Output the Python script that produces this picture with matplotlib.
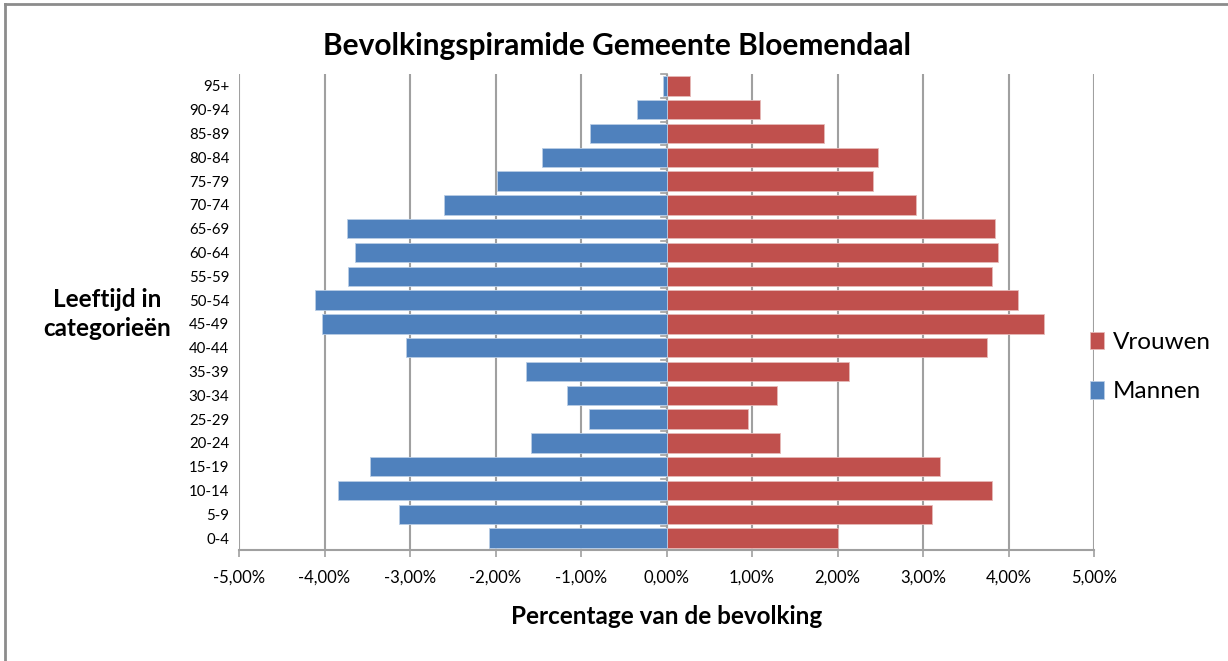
import matplotlib.pyplot as plt
from matplotlib.lines import Line2D
from matplotlib.ticker import FuncFormatter
import numpy as np

# leeftijdscategorieen, van onder naar boven
leeftijd = ['0-4', '5-9', '10-14', '15-19', '20-24', '25-29', '30-34', '35-39',
            '40-44', '45-49', '50-54', '55-59', '60-64', '65-69', '70-74',
            '75-79', '80-84', '85-89', '90-94', '95+']
# percentage van de bevolking
mannen = [2.08, 3.13, 3.84, 3.47, 1.58, 0.905, 1.16, 1.64, 3.05, 4.03,
          4.11, 3.73, 3.64, 3.74, 2.60, 1.98, 1.46, 0.89, 0.34, 0.04]
vrouwen = [2.01, 3.10, 3.81, 3.20, 1.33, 0.95, 1.29, 2.13, 3.75, 4.42,
           4.11, 3.81, 3.88, 3.84, 2.92, 2.42, 2.47, 1.84, 1.09, 0.27]
xticks = [-5, -4, -3, -2, -1, 0, 1, 2, 3, 4, 5]

plt.rcParams['font.family'] = ['Lato', 'DejaVu Sans']

W, H = 1228, 661
fig = plt.figure(figsize=(W / 100, H / 100), dpi=100)
ax = fig.add_axes([239 / W, 1 - 550 / H, (1094 - 239) / W, (550 - 74) / H])

y = np.arange(len(leeftijd))
blauw = '#4F81BD'
rood = '#C0504D'
b_v = ax.barh(y, vrouwen, height=0.82, color=rood, edgecolor='#E6B9B8', linewidth=0.6, label='Vrouwen', zorder=3)
b_m = ax.barh(y, [-m for m in mannen], height=0.82, color=blauw, edgecolor='#B9CDE5', linewidth=0.6, label='Mannen', zorder=3)

ax.set_xlim(-5, 5)
ax.set_ylim(-0.5, len(leeftijd) - 0.5)
ax.set_xticks(xticks)
ax.xaxis.set_major_formatter(FuncFormatter(lambda v, p: f'{v:.2f}%'.replace('.', ',')))
ax.set_yticks(y)
ax.set_yticklabels(leeftijd)
ax.tick_params(axis='y', length=0, pad=7, labelsize=10.8)
ax.tick_params(axis='x', length=5, width=1.2, color='#A0A0A0', pad=9, labelsize=12)

ax.grid(axis='x', color='#A0A0A0', linewidth=1.5, zorder=0)
for s in ['top', 'right', 'left']:
    ax.spines[s].set_visible(False)
ax.spines['bottom'].set_color('#A0A0A0')
ax.spines['bottom'].set_linewidth(1.5)

# verticale as bij 0 met streepjes tussen de categorieen
ax.axvline(0, color='#A0A0A0', linewidth=1.5, zorder=2)
for k in range(len(leeftijd) + 1):
    ax.plot([-0.06, 0], [k - 0.5, k - 0.5], color='#A0A0A0', linewidth=1.2, zorder=2, clip_on=False)

fig.text(617 / W, 1 - 46 / H, 'Bevolkingspiramide Gemeente Bloemendaal', fontsize=21.5,
         fontweight='bold', ha='center', va='center')
ax.set_xlabel('Percentage van de bevolking', fontsize=17.5, fontweight='bold', labelpad=14)
fig.text(107 / W, 1 - 314 / H, 'Leeftijd in\ncategorieën', fontsize=17.5, fontweight='bold',
         ha='center', va='center', linespacing=1.3)

ax.legend(handles=[b_v, b_m], loc='center left', bbox_to_anchor=(1068 / W, 1 - 367 / H),
          bbox_transform=fig.transFigure, frameon=False, fontsize=17.5,
          handlelength=0.6, handleheight=0.75, handletextpad=0.35, labelspacing=1.15)

# kader van de grafiek en afgesneden bijschrift erboven
fig.add_artist(Line2D([5 / W, 5 / W], [0, 1 - 4 / H], color='#8C8C8C', linewidth=2))
fig.add_artist(Line2D([5 / W, 1], [1 - 4 / H, 1 - 4 / H], color='#8C8C8C', linewidth=2))
fig.text(20 / W, 1 + 8 / H, 'Figuur 1: Bevolkingspiramide gemeente Bloemendaal per 1 januari 2013',
         fontsize=13, fontweight='bold', va='baseline')

fig.savefig('out.png', dpi=100)
